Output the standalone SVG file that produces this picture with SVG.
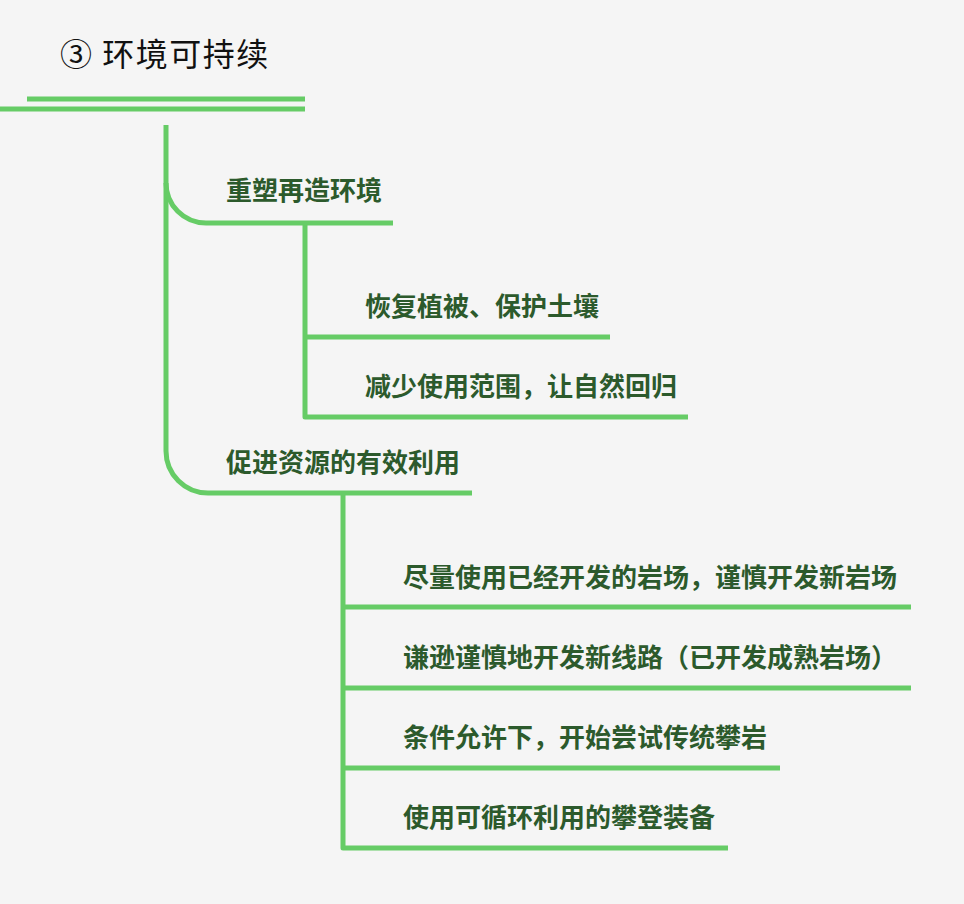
<svg xmlns="http://www.w3.org/2000/svg" width="964" height="904" viewBox="0 0 964 904">
  <style>
    .bg { fill: #f5f5f5; }
    .ln { fill: none; stroke: #66cc66; stroke-width: 5; stroke-linecap: butt; stroke-linejoin: round; }
    .title { font-family: "Noto Sans CJK SC", "Noto Sans", sans-serif; font-size: 32px; letter-spacing: 1.5px; fill: #111111; }
    .lbl { font-family: "Noto Sans CJK SC", "Noto Sans", sans-serif; font-size: 26px; font-weight: bold; fill: #2c5a2c; }
  </style>
  <rect class="bg" x="0" y="0" width="964" height="904"/>
  <g id="connectors">
    <path class="ln" d="M27,99 H305"/>
    <path class="ln" d="M0,109 H305"/>
    <path class="ln" d="M166,125 V451 A42,42 0 0 0 208,493 H472"/>
    <path class="ln" d="M166,183 A40,40 0 0 0 206,223 H393"/>
    <path class="ln" d="M305,223 V417 H688"/>
    <path class="ln" d="M305,337 H610"/>
    <path class="ln" d="M343,493 V848 H728"/>
    <path class="ln" d="M343,607 H911"/>
    <path class="ln" d="M343,688 H911"/>
    <path class="ln" d="M343,768 H780"/>
  </g>
  <g id="root"><text class="title" x="60" y="66">③ 环境可持续</text></g>
  <g id="branch1"><text class="lbl" x="226" y="200">重塑再造环境</text></g>
  <g id="leaf1a"><text class="lbl" x="365" y="316">恢复植被、保护土壤</text></g>
  <g id="leaf1b"><text class="lbl" x="365" y="396">减少使用范围，让自然回归</text></g>
  <g id="branch2"><text class="lbl" x="226" y="472">促进资源的有效利用</text></g>
  <g id="leaf2a"><text class="lbl" x="403" y="587">尽量使用已经开发的岩场，谨慎开发新岩场</text></g>
  <g id="leaf2b"><text class="lbl" x="403" y="667">谦逊谨慎地开发新线路（已开发成熟岩场）</text></g>
  <g id="leaf2c"><text class="lbl" x="403" y="747">条件允许下，开始尝试传统攀岩</text></g>
  <g id="leaf2d"><text class="lbl" x="403" y="827">使用可循环利用的攀登装备</text></g>
</svg>
